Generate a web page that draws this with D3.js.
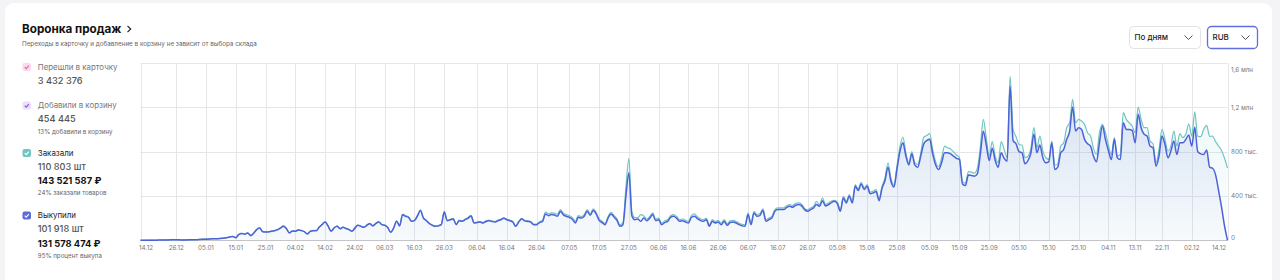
<!DOCTYPE html>
<html>
<head>
<meta charset="utf-8">
<script src="https://cdn.jsdelivr.net/npm/d3@7"></script>
<style>
  body { margin: 0; background: #f4f4f6; }
  svg text { font-family: Inter, "Noto Sans", sans-serif; }
</style>
</head>
<body>
<div id="funnel"></div>
<script>
/* Data: daily sums, thousands of RUB, 14.12.2022 .. 14.12.2023 */
var startDate = "2022-12-14";
var endDate = "2023-12-14";

var tickDates = [
  "2022-12-14", "2022-12-26", "2023-01-05", "2023-01-15", "2023-01-25", "2023-02-04",
  "2023-02-14", "2023-02-24", "2023-03-06", "2023-03-16", "2023-03-26", "2023-04-06",
  "2023-04-16", "2023-04-26", "2023-05-07", "2023-05-17", "2023-05-27", "2023-06-06",
  "2023-06-16", "2023-06-26", "2023-07-06", "2023-07-16", "2023-07-26", "2023-08-05",
  "2023-08-15", "2023-08-25", "2023-09-05", "2023-09-15", "2023-09-25", "2023-10-05",
  "2023-10-15", "2023-10-25", "2023-11-04", "2023-11-13", "2023-11-22", "2023-12-02",
  "2023-12-14"
];

var yTicks = [0, 400, 800, 1200, 1600];
var yTickLabels = ["0", "400 тыс.", "800 тыс.", "1,2 млн", "1,6 млн"];

// Заказали
var ordered = [
  0,0,1,1,1,2,2,2,3,3,
  4,5,5,5,4,4,4,5,6,7,
  8,10,11,12,14,15,16,18,20,25,
  31,35,25,54,63,57,68,44,66,99,
  114,80,77,78,84,89,97,113,130,107,
  68,86,83,97,90,80,59,82,90,89,
  120,145,169,131,83,114,129,107,120,109,
  99,83,113,138,129,120,138,154,133,154,
  169,145,139,118,74,113,175,134,236,222,
  212,175,181,225,274,205,181,154,139,129,
  133,145,261,181,190,197,145,182,175,191,
  205,226,160,164,169,160,175,182,175,170,
  182,190,203,190,182,170,130,170,198,180,
  176,170,146,147,168,180,255,240,247,245,
  235,277,245,232,222,205,172,222,215,232,
  277,240,283,252,195,172,152,215,252,225,
  193,138,160,480,740,260,205,205,232,220,
  192,215,247,192,200,155,175,186,222,232,
  215,186,192,180,170,225,238,210,195,186,
  200,140,186,170,180,155,186,150,175,180,
  170,155,143,140,247,155,262,232,241,283,
  186,201,216,277,292,292,292,312,322,316,
  334,337,325,287,274,292,307,352,322,382,
  325,337,355,361,345,277,397,352,413,352,
  503,464,524,473,503,435,443,458,376,488,
  565,700,560,500,670,845,932,790,700,800,
  700,684,790,930,945,962,820,710,665,745,
  850,835,825,800,770,745,530,515,620,615,
  605,650,840,1091,925,760,890,760,700,890,
  820,745,1480,1000,935,865,860,745,760,835,
  1016,835,941,805,745,730,895,678,690,850,
  880,1016,1061,1273,1061,1091,1076,1046,970,941,
  830,775,971,1046,971,860,775,926,760,775,
  1152,1091,1061,1031,971,1203,1091,1016,1016,895,
  871,700,820,1001,911,805,850,986,850,962,
  926,956,1052,940,1160,940,935,1000,1037,938,
  940,890,850,810,740,651
];

// Выкупили
var bought = [
  0,0,0,1,1,1,2,2,2,3,
  4,4,5,4,3,3,4,4,5,6,
  8,9,10,11,13,14,15,17,19,24,
  30,34,24,52,61,55,66,42,64,96,
  111,78,75,76,82,87,94,110,126,104,
  66,84,81,94,87,78,57,80,87,86,
  117,141,165,128,81,111,126,104,117,106,
  96,81,110,135,126,117,135,150,130,150,
  165,141,135,115,72,110,171,130,231,217,
  207,171,177,220,268,200,177,150,135,126,
  130,141,255,177,185,192,141,177,171,186,
  200,220,156,160,165,156,170,177,170,165,
  177,185,198,185,177,165,126,165,192,175,
  170,165,141,141,160,171,238,222,232,228,
  217,262,230,217,207,190,156,207,201,217,
  262,226,268,238,180,160,141,201,238,210,
  180,126,141,400,609,220,186,192,171,201,
  177,200,232,177,186,141,160,171,207,217,
  200,171,177,165,156,208,217,195,180,171,
  186,126,171,156,165,141,171,135,160,165,
  156,141,130,126,232,141,247,217,226,268,
  171,186,201,262,277,277,277,297,307,299,
  316,322,310,277,262,277,292,322,307,358,
  310,322,340,352,330,262,382,337,397,337,
  488,449,509,458,488,420,428,440,358,470,
  540,660,530,480,640,800,880,760,680,780,
  680,660,760,870,900,911,780,680,640,700,
  790,790,780,760,740,729,509,494,590,585,
  578,600,775,985,860,720,830,720,660,790,
  740,714,1390,900,870,800,790,690,720,790,
  956,790,859,745,699,710,880,639,660,790,
  820,911,986,1203,986,1016,1001,911,871,850,
  760,708,880,1031,911,811,729,911,745,729,
  1061,1001,1001,992,880,1137,1016,956,941,850,
  835,669,760,941,865,745,805,895,775,880,
  880,911,950,850,1020,800,780,775,815,660,
  650,590,450,300,130,0
];

var legendNames = ["Перешли в карточку", "Добавили в корзину", "Заказали", "Выкупили"];
var legendCounts = ["3 432 376", "454 445", "110 803 шт", "101 918 шт"];
var legendSums = [null, null, "143 521 587 ₽", "131 578 474 ₽"];
var legendNotes = [null, "13% добавили в корзину", "24% заказали товаров", "95% процент выкупа"];

var periodOptions = ["По дням", "RUB"];

/* Sizes */
var width = 1280;
var height = 280;
var plot = { left: 140.5, right: 1227.5, top: 63, bottom: 240.3 };

var colorOrdered = "#70c5c2";
var colorBought = "#4d62d8";
var gridColor = "#e6e6e9";

var parseDay = d3.utcParse("%Y-%m-%d");
var fmtDay = d3.utcFormat("%d.%m");
var start = parseDay(startDate);

var series = ordered.map(function(v, i) {
  return { date: d3.utcDay.offset(start, i), ordered: v, bought: bought[i] };
});

var xScale = d3.scaleUtc()
  .domain([start, parseDay(endDate)])
  .range([plot.left, plot.right]);

var yScale = d3.scaleLinear()
  .domain([0, 1600])
  .range([plot.bottom, plot.top]);

var svg = d3.select("#funnel").append("svg")
  .attr("width", width)
  .attr("height", height);

/* Card */
svg.append("rect")
  .attr("x", 5).attr("y", 3)
  .attr("width", 1267).attr("height", 300)
  .attr("rx", 9)
  .attr("fill", "#fff");

/* Header */
svg.append("text")
  .attr("x", 22).attr("y", 33)
  .attr("font-size", "11.7px")
  .attr("font-weight", 700)
  .attr("fill", "#111")
  .text("Воронка продаж");

svg.append("path")
  .attr("d", "M127.5,25.8 L130.7,29 L127.5,32.2")
  .attr("fill", "none")
  .attr("stroke", "#222")
  .attr("stroke-width", 1.2);

svg.append("text")
  .attr("x", 22).attr("y", 45.5)
  .attr("font-size", "6.3px")
  .attr("fill", "#666")
  .text("Переходы в карточку и добавление в корзину не зависит от выбора склада");

/* Dropdowns */
var boxes = [
  { x: 1129.5, w: 71, stroke: "#e3e3e6", sw: 1 },
  { x: 1207.5, w: 50, stroke: "#5f6fe0", sw: 1.3 }
];
boxes.forEach(function(b, i) {
  svg.append("rect")
    .attr("x", b.x).attr("y", 26.5)
    .attr("width", b.w).attr("height", 22)
    .attr("rx", 4)
    .attr("fill", "#fff")
    .attr("stroke", b.stroke)
    .attr("stroke-width", b.sw);
  svg.append("text")
    .attr("x", b.x + 5).attr("y", 37.5)
    .attr("dy", "0.35em")
    .attr("font-size", "8px")
    .attr("font-weight", 500)
    .attr("fill", "#222")
    .text(periodOptions[i]);
  var cx = b.x + b.w - 12;
  svg.append("path")
    .attr("d", `M${cx - 4},35.5 L${cx},39.5 L${cx + 4},35.5`)
    .attr("fill", "none")
    .attr("stroke", "#555")
    .attr("stroke-width", 1);
});

/* Legend */
var checkFill = ["#f9d9ea", "#ebe0fa", "#6fc5c2", "#5b69db"];
var checkMark = ["#e06aa6", "#8b55e3", "#fff", "#fff"];
var itemTop = [63, 101.5, 149, 211.5];

legendNames.forEach(function(name, i) {
  var g = svg.append("g").attr("transform", `translate(22.5, ${itemTop[i]})`);
  g.append("rect")
    .attr("width", 8.5).attr("height", 8)
    .attr("rx", 2)
    .attr("fill", checkFill[i]);
  g.append("path")
    .attr("d", "M2.2,4.2 L3.7,5.7 L6.4,2.6")
    .attr("fill", "none")
    .attr("stroke", checkMark[i])
    .attr("stroke-width", 1.1);
  g.append("text")
    .attr("x", 15.3).attr("y", 4)
    .attr("dy", "0.35em")
    .attr("font-size", "7.9px")
    .attr("fill", i < 2 ? "#777" : "#222")
    .text(name);
  g.append("text")
    .attr("x", 15.3).attr("y", 17.5)
    .attr("dy", "0.35em")
    .attr("font-size", "9.2px")
    .attr("font-weight", 500)
    .attr("fill", "#555")
    .text(legendCounts[i]);
  var ny = 30.5;
  if (legendSums[i]) {
    g.append("text")
      .attr("x", 15.3).attr("y", 32)
      .attr("dy", "0.35em")
      .attr("font-size", "9.4px")
      .attr("font-weight", 700)
      .attr("fill", "#111")
      .text(legendSums[i]);
    ny = 44;
  }
  if (legendNotes[i]) {
    g.append("text")
      .attr("x", 15.3).attr("y", ny)
      .attr("dy", "0.35em")
      .attr("font-size", "6.2px")
      .attr("fill", "#666")
      .text(legendNotes[i]);
  }
});

/* Grid */
var ticks = tickDates.map(parseDay);
var grid = svg.append("g").attr("class", "grid");

grid.selectAll(".vline")
  .data(ticks).enter()
  .append("line")
  .attr("x1", d => Math.round(xScale(d)) + 0.5)
  .attr("x2", d => Math.round(xScale(d)) + 0.5)
  .attr("y1", plot.top)
  .attr("y2", plot.bottom)
  .attr("stroke", gridColor);

grid.selectAll(".hline")
  .data(yTicks.slice(1)).enter()
  .append("line")
  .attr("x1", plot.left)
  .attr("x2", plot.right)
  .attr("y1", d => Math.round(yScale(d)) + 0.5)
  .attr("y2", d => Math.round(yScale(d)) + 0.5)
  .attr("stroke", gridColor);

/* Area fills */
var defs = svg.append("defs");
function addGradient(id, color, top, bottom) {
  var gr = defs.append("linearGradient")
    .attr("id", id)
    .attr("gradientUnits", "userSpaceOnUse")
    .attr("x1", 0).attr("x2", 0)
    .attr("y1", plot.top).attr("y2", plot.bottom);
  gr.append("stop").attr("offset", 0).attr("stop-color", color).attr("stop-opacity", top);
  gr.append("stop").attr("offset", 1).attr("stop-color", color).attr("stop-opacity", bottom);
}
addGradient("fillOrdered", colorOrdered, 0.14, 0.03);
addGradient("fillBought", colorBought, 0.17, 0.02);

var curve = d3.curveMonotoneX;

var areaOrdered = d3.area()
  .x(d => xScale(d.date))
  .y0(plot.bottom)
  .y1(d => yScale(d.ordered))
  .curve(curve);

var areaBought = d3.area()
  .x(d => xScale(d.date))
  .y0(plot.bottom)
  .y1(d => yScale(d.bought))
  .curve(curve);

svg.append("path").attr("d", areaOrdered(series)).attr("fill", "url(#fillOrdered)");
svg.append("path").attr("d", areaBought(series)).attr("fill", "url(#fillBought)");

/* Axis line */
svg.append("line")
  .attr("x1", plot.left).attr("x2", plot.right)
  .attr("y1", 240.5).attr("y2", 240.5)
  .attr("stroke", "#c4c4c8");

/* Lines */
var lineOrdered = d3.line()
  .x(d => xScale(d.date))
  .y(d => yScale(d.ordered))
  .curve(curve);

var lineBought = d3.line()
  .x(d => xScale(d.date))
  .y(d => yScale(d.bought))
  .curve(curve);

svg.append("path")
  .attr("d", lineOrdered(series))
  .attr("fill", "none")
  .attr("stroke", colorOrdered)
  .attr("stroke-width", 1.2);

svg.append("path")
  .attr("d", lineBought(series))
  .attr("fill", "none")
  .attr("stroke", colorBought)
  .attr("stroke-width", 1.5);

/* Axis labels */
svg.selectAll(".xlabel")
  .data(ticks).enter()
  .append("text")
  .attr("x", d => Math.min(Math.max(xScale(d), 146), 1219))
  .attr("y", 247.5)
  .attr("dy", "0.35em")
  .attr("text-anchor", "middle")
  .attr("font-size", "6.3px")
  .attr("fill", "#777")
  .text(d => fmtDay(d));

svg.selectAll(".ylabel")
  .data(yTicks).enter()
  .append("text")
  .attr("x", 1231)
  .attr("y", d => Math.min(Math.max(yScale(d), 69.5), 237.8))
  .attr("dy", "0.35em")
  .attr("font-size", "6.3px")
  .attr("fill", "#777")
  .text((d, i) => yTickLabels[i]);
</script>
</body>
</html>
